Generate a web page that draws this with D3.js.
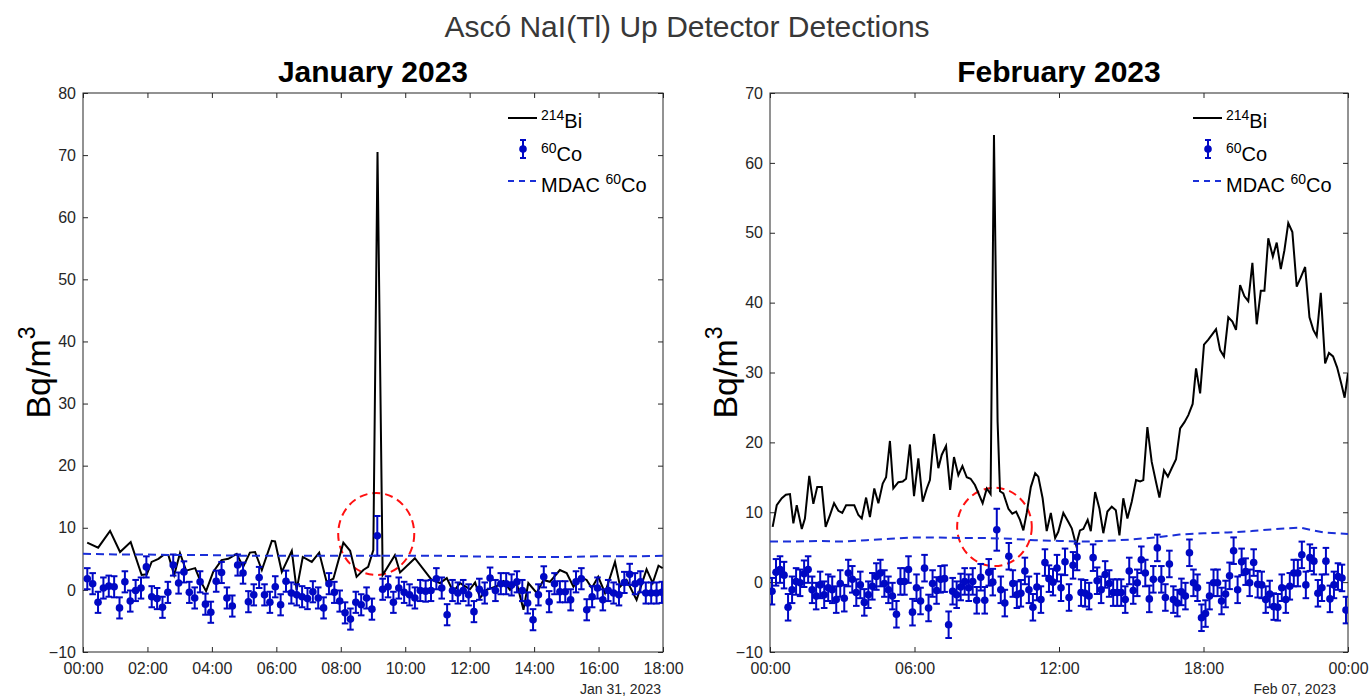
<!DOCTYPE html>
<html lang="en">
<head>
<meta charset="UTF-8">
<title>Ascó NaI(Tl) Up Detector Detections</title>
<script src="https://cdn.jsdelivr.net/npm/d3@7"></script>
<style>
  body { margin: 0; background: #fff; }
  svg { display: block; font-family: "Liberation Sans", Arial, sans-serif; }
  .tick text { font-size: 16px; fill: #262626; }
  .tick line { stroke: #262626; }
</style>
</head>
<body>
<script>
// ---- January 31, 2023 (00:00 - 18:00) ----
const janBiHours = [0.13,0.47,0.84,1.15,1.48,1.82,1.98,2.13,2.34,2.49,2.65,2.83,3.01,3.20,3.48,3.63,3.82,4.04,4.30,4.51,
  4.77,4.97,5.18,5.34,5.55,5.86,5.96,6.17,6.48,6.63,6.82,7.10,7.33,7.56,7.77,8.08,8.29,8.49,8.70,8.85,
  9.01,9.14,9.30,9.68,9.84,10.30,10.82,11.08,11.29,11.49,11.70,12.01,12.17,12.32,12.53,12.84,13.05,13.25,13.46,13.67,
  13.82,14.08,14.29,14.49,14.80,15.01,15.22,15.42,15.63,15.79,15.99,16.20,16.51,16.67,16.87,17.18,17.49,17.68,17.86,17.99];
const janBiValues = [7.6,6.8,9.5,6.1,7.7,2.4,2.5,4.5,5.0,5.6,5.6,2.4,5.9,3.1,3.5,1.6,-0.2,2.9,4.8,5.0,
  5.8,3.7,6.0,6.1,3.2,7.9,7.8,2.9,6.3,0.0,5.3,4.5,6.0,1.3,1.8,7.6,6.3,2.1,3.2,3.7,
  6.4,70.5,2.4,5.6,2.8,5.1,1.6,1.1,1.9,-0.3,1.1,0.1,1.2,-1.3,0.0,0.6,1.4,0.0,1.1,-3.2,
  1.1,-0.5,1.6,1.3,3.2,2.7,0.5,2.1,1.6,0.3,2.1,-0.5,4.5,0.5,1.6,-1.6,3.3,1.1,3.9,3.5];

// 60Co every 10 minutes, first one at 00:08
const janCoStartMin = 8;
const janCoValues = [1.8,1.0,-2.0,0.3,0.6,0.5,-2.9,1.3,-1.8,-0.1,0.3,3.7,-1.1,-1.4,-2.8,-0.4,4.0,1.1,2.9,-0.4,
  -1.3,1.3,-2.3,-3.6,1.4,2.8,-1.3,-2.6,4.0,2.7,-1.9,-0.8,2.0,-0.8,-2.0,0.5,-2.4,1.4,-0.5,-0.8,
  -1.1,-1.4,-0.3,-1.3,-2.9,1.0,-0.4,-1.8,-3.7,-4.7,-2.0,-2.4,-1.3,-3.1,8.7,
  0.1,0.5,-2.0,0.3,-0.4,-0.8,-1.3,-0.1,-0.2,-0.1,1.8,0.3,-4.0,-0.1,-0.5,-0.1,-0.8,-3.5,0.1,-0.5,
  1.9,-0.1,1.0,1.0,0.8,1.3,-0.1,-2.1,-4.8,-0.8,2.1,-1.9,1.0,-0.3,-0.3,-1.6,1.3,1.8,-3.2,-1.1,
  0.3,-1.6,-0.1,-0.5,-0.8,1.2,2.5,1.0,1.3,-0.5,-0.5,-0.5,-0.4];
const janCoErr = 1.7, janCoPeakIndex = 54, janCoPeakErr = 3.2;

// MDAC 60Co, hourly
const janMdacValues = [5.8,5.7,5.7,5.6,5.6,5.5,5.5,5.5,5.5,5.5,5.5,5.5,5.4,5.3,5.3,5.3,5.4,5.4,5.5];
const janCircle = { hour: 9.1, value: 9.0, rHours: 1.18, rValue: 6.6 };

// ---- February 07, 2023 (00:00 - 24:00) ----
const febBiHours = [0.11,0.28,0.49,0.66,0.83,0.97,1.11,1.32,1.45,1.63,1.80,1.96,2.15,2.31,2.49,2.66,2.84,3.00,3.16,3.32,
  3.50,3.67,3.81,3.99,4.15,4.33,4.50,4.68,4.82,4.98,5.12,5.33,5.51,5.65,5.81,5.98,6.16,6.34,6.51,6.64,
  6.81,6.99,7.13,7.31,7.48,7.64,7.82,7.99,8.17,8.33,8.51,8.83,9.00,9.16,9.30,9.45,9.55,9.69,9.90,10.06,
  10.22,10.38,10.52,10.66,10.83,11.01,11.14,11.32,11.49,11.66,11.84,11.97,12.18,12.39,12.53,12.71,12.87,13.01,13.19,13.32,
  13.50,13.68,13.84,14.01,14.19,14.36,14.51,14.67,14.84,15.02,15.20,15.37,15.50,15.67,15.85,16.03,16.17,16.36,16.52,16.68,
  16.86,17.03,17.21,17.37,17.55,17.69,17.86,18.02,18.20,18.37,18.52,18.69,18.85,19.03,19.20,19.35,19.52,19.70,19.86,20.03,
  20.21,20.38,20.53,20.69,20.88,21.04,21.21,21.36,21.52,21.69,21.87,22.04,22.22,22.40,22.56,22.70,22.87,23.05,23.21,23.38,
  23.55,23.73,23.86,24.00];
const febBiValues = [7.9,11.0,12.0,12.5,12.6,8.4,11.0,7.6,9.1,15.2,11.2,13.6,13.6,7.9,9.6,11.3,10.2,9.9,11.0,11.0,
  11.0,9.6,9.1,12.1,9.3,13.4,11.3,14.1,15.0,20.2,13.4,14.3,14.4,14.8,19.7,12.3,17.7,11.5,13.4,14.6,
  21.2,16.3,18.2,19.5,13.2,17.9,15.3,16.6,15.0,14.8,13.9,11.3,13.4,12.6,64.0,23.0,13.0,12.7,10.5,9.8,
  10.1,8.9,7.4,9.9,13.6,15.6,15.1,12.0,7.3,9.9,6.3,7.2,9.9,8.6,7.7,5.3,7.4,7.6,8.9,7.3,
  12.9,10.5,7.0,10.1,10.8,10.3,6.7,12.0,9.1,11.5,14.6,14.4,14.6,22.2,17.2,14.3,12.1,16.0,15.1,16.3,
  17.6,22.0,22.9,23.9,25.5,30.6,27.0,34.0,34.7,35.5,36.2,33.2,32.3,37.9,37.3,36.1,42.5,40.9,40.2,45.7,
  36.9,41.7,41.7,49.2,46.6,48.6,44.8,47.5,51.4,50.1,42.3,43.6,45.1,37.9,36.1,35.2,41.4,31.3,32.8,32.3,
  30.7,28.3,26.4,29.9];

// 60Co every 10 minutes, first one at 00:05
const febCoStartMin = 5;
const febCoValues = [-1.3,1.4,1.8,1.0,-3.6,-1.1,0.1,-0.1,1.2,1.8,-1.1,-2.0,-0.4,-1.8,-0.8,-1.1,-2.5,-0.2,-2.3,1.3,
  0.4,-1.5,-0.4,-2.9,-1.8,-0.6,0.8,1.3,-0.2,-1.1,-2.0,-4.6,0.1,0.1,1.8,-4.3,-0.8,-2.7,2.0,-3.7,
  -0.2,-1.2,0.4,0.5,-6.1,-1.3,-1.8,-0.7,0.1,-0.8,0.1,-2.6,0.7,-2.6,1.4,0.0,7.5,-1.1,-3.0,3.7,
  -0.2,-1.8,-1.6,1.6,-1.1,-3.6,-0.7,-2.5,2.8,0.5,0.0,2.0,-0.8,2.9,-2.2,2.4,3.6,-1.5,-1.6,-2.0,
  3.5,0.2,-1.1,1.1,-0.2,-1.5,-1.5,-1.5,-2.5,1.6,-1.2,-0.1,3.2,1.3,-2.4,0.4,4.9,0.4,-2.2,2.6,
  -2.5,-3.0,-1.4,-2.0,4.2,-0.1,-0.8,-5.1,-4.5,-2.0,-0.1,-0.1,-2.7,-1.7,0.9,4.5,-1.1,2.9,1.5,-0.1,
  2.8,-0.3,-0.4,-2.5,-1.7,-3.5,-3.6,-0.8,-2.5,-0.6,1.3,1.3,3.9,-0.4,3.5,3.0,-1.6,-0.8,3.0,-2.4,
  -0.4,0.8,0.6,-4.0];
const febCoErr = 1.9, febCoPeakIndex = 56, febCoPeakErr = 3.0;

const febMdacValues = [5.8,5.8,5.9,5.8,6.0,6.2,6.4,6.4,6.3,6.3,6.2,6.0,5.9,5.8,5.9,6.1,6.4,6.8,7.0,7.1,7.3,7.6,7.8,7.1,6.9];
const febCircle = { hour: 9.32, value: 7.9, rHours: 1.55, rValue: 5.6 };

const janYTicks = d3.range(-10, 81, 10);
const febYTicks = d3.range(-10, 71, 10);

const W = 1370, H = 697;
const plotTop = 93, plotBottom = 652;
const blue = "#0008c4", ink = "#262626";

const svg = d3.select("body").append("svg").attr("width", W).attr("height", H);

svg.append("text")
  .attr("x", 687).attr("y", 37)
  .attr("text-anchor", "middle")
  .attr("font-size", 30).attr("fill", "#383838")
  .text("Ascó NaI(Tl) Up Detector Detections");

function drawPanel(p) {
  const g = svg.append("g");
  const base = p.start.getTime();
  const t = h => new Date(base + h * 3600e3);

  const x = d3.scaleTime().domain([t(0), t(p.hours)]).range([p.left, p.right]);
  const y = d3.scaleLinear().domain([p.yTicks[0], p.yTicks[p.yTicks.length - 1]]).range([plotBottom, plotTop]);

  const clipId = "clip-" + p.id;
  svg.append("clipPath").attr("id", clipId).append("rect")
    .attr("x", p.left).attr("y", plotTop).attr("width", p.right - p.left).attr("height", plotBottom - plotTop);

  // axes, ticks pointing inward like matlab
  const fmt = d3.timeFormat("%H:%M");
  const xTicks = d3.range(0, p.hours + 0.01, p.tickStep).map(t);
  g.append("g").attr("transform", `translate(0,${plotBottom})`)
    .call(d3.axisBottom(x).tickValues(xTicks).tickFormat(fmt).tickSizeInner(-5).tickSizeOuter(0).tickPadding(11));
  g.append("g").attr("transform", `translate(0,${plotTop})`)
    .call(d3.axisTop(x).tickValues(xTicks).tickFormat("").tickSizeInner(-5).tickSizeOuter(0));
  g.append("g").attr("transform", `translate(${p.left},0)`)
    .call(d3.axisLeft(y).tickValues(p.yTicks).tickSizeInner(-5).tickSizeOuter(0).tickPadding(7));
  g.append("g").attr("transform", `translate(${p.right},0)`)
    .call(d3.axisRight(y).tickValues(p.yTicks).tickFormat("").tickSizeInner(-5).tickSizeOuter(0));
  g.selectAll(".domain").remove();
  g.append("rect")
    .attr("x", p.left).attr("y", plotTop).attr("width", p.right - p.left).attr("height", plotBottom - plotTop)
    .attr("fill", "none").attr("stroke", ink).attr("stroke-width", 1);

  const data = svg.append("g").attr("clip-path", `url(#${clipId})`);

  // 214Bi
  const bi = p.biHours.map((h, i) => [t(h), p.biValues[i]]);
  data.append("path")
    .attr("d", d3.line().x(d => x(d[0])).y(d => y(d[1]))(bi))
    .attr("fill", "none").attr("stroke", "#000").attr("stroke-width", 2);

  // 60Co with error bars
  const co = p.coValues.map((v, i) => ({
    time: t((p.coStartMin + i * 10) / 60),
    value: v,
    err: i === p.coPeakIndex ? p.coPeakErr : p.coErr
  }));
  const pts = data.append("g").selectAll("g").data(co).join("g");
  pts.append("line")
    .attr("x1", d => x(d.time)).attr("x2", d => x(d.time))
    .attr("y1", d => y(d.value - d.err)).attr("y2", d => y(d.value + d.err))
    .attr("stroke", blue).attr("stroke-width", 2);
  pts.selectAll(".cap").data(d => [d.value - d.err, d.value + d.err].map(v => ({ time: d.time, v })))
    .join("line")
    .attr("x1", d => x(d.time) - 3.3).attr("x2", d => x(d.time) + 3.3)
    .attr("y1", d => y(d.v)).attr("y2", d => y(d.v))
    .attr("stroke", blue).attr("stroke-width", 2);
  pts.append("circle")
    .attr("cx", d => x(d.time)).attr("cy", d => y(d.value)).attr("r", 3.8)
    .attr("fill", blue);

  // MDAC 60Co
  data.append("path")
    .attr("d", d3.line().x((d, i) => x(t(i))).y(d => y(d))(p.mdacValues))
    .attr("fill", "none").attr("stroke", "#1a2fd8").attr("stroke-width", 2).attr("stroke-dasharray", "8,5");

  // red circle around the coincident peak
  const c = p.circle;
  g.append("ellipse")
    .attr("cx", x(t(c.hour))).attr("cy", y(c.value))
    .attr("rx", x(t(c.hour + c.rHours)) - x(t(c.hour)))
    .attr("ry", y(c.value - c.rValue) - y(c.value))
    .attr("fill", "none").attr("stroke", "#ff1010").attr("stroke-width", 2).attr("stroke-dasharray", "8,5");

  // titles
  svg.append("text")
    .attr("x", (p.left + p.right) / 2).attr("y", 82)
    .attr("text-anchor", "middle").attr("font-size", 30).attr("font-weight", "bold").attr("fill", "#000")
    .text(p.title);

  const yl = svg.append("text")
    .attr("transform", `translate(${p.left - 33},${(plotTop + plotBottom) / 2}) rotate(-90)`)
    .attr("text-anchor", "middle").attr("font-size", 34).attr("fill", "#000");
  yl.append("tspan").text("Bq/m");
  yl.append("tspan").attr("font-size", 23).attr("dy", -15).text("3");

  svg.append("text")
    .attr("x", p.right - p.dateInset).attr("y", 694)
    .attr("text-anchor", "end").attr("font-size", 14).attr("fill", ink)
    .text(p.dateLabel);

  // legend
  const lx = p.right - 155;
  const leg = svg.append("g").attr("font-size", 20).attr("fill", "#000");
  leg.append("line").attr("x1", lx).attr("x2", lx + 29).attr("y1", 118).attr("y2", 118)
    .attr("stroke", "#000").attr("stroke-width", 2);
  leg.append("line").attr("x1", lx + 15).attr("x2", lx + 15).attr("y1", 140).attr("y2", 158)
    .attr("stroke", blue).attr("stroke-width", 2);
  [140, 158].forEach(v => leg.append("line").attr("x1", lx + 12).attr("x2", lx + 18).attr("y1", v).attr("y2", v)
    .attr("stroke", blue).attr("stroke-width", 2));
  leg.append("circle").attr("cx", lx + 15).attr("cy", 149).attr("r", 3.8).attr("fill", blue);
  leg.append("line").attr("x1", lx).attr("x2", lx + 29).attr("y1", 181).attr("y2", 181)
    .attr("stroke", "#1a2fd8").attr("stroke-width", 2).attr("stroke-dasharray", "6,5");

  const labels = [["", "214", "Bi", 128], ["", "60", "Co", 161], ["MDAC ", "60", "Co", 192]];
  labels.forEach(([pre, sup, el, yy]) => {
    const tx = leg.append("text").attr("x", lx + 33).attr("y", yy);
    if (pre) tx.append("tspan").text(pre);
    tx.append("tspan").attr("font-size", 14).attr("dy", -8).text(sup);
    tx.append("tspan").attr("dy", 8).text(el);
  });
}

drawPanel({
  id: "jan", title: "January 2023", dateLabel: "Jan 31, 2023", dateInset: 2,
  start: new Date(2023, 0, 31, 0, 0), hours: 18, tickStep: 2,
  left: 83, right: 663, yTicks: janYTicks,
  biHours: janBiHours, biValues: janBiValues,
  coStartMin: janCoStartMin, coValues: janCoValues, coErr: janCoErr, coPeakIndex: janCoPeakIndex, coPeakErr: janCoPeakErr,
  mdacValues: janMdacValues, circle: janCircle
});

drawPanel({
  id: "feb", title: "February 2023", dateLabel: "Feb 07, 2023", dateInset: 12,
  start: new Date(2023, 1, 7, 0, 0), hours: 24, tickStep: 6,
  left: 770, right: 1348, yTicks: febYTicks,
  biHours: febBiHours, biValues: febBiValues,
  coStartMin: febCoStartMin, coValues: febCoValues, coErr: febCoErr, coPeakIndex: febCoPeakIndex, coPeakErr: febCoPeakErr,
  mdacValues: febMdacValues, circle: febCircle
});
</script>
</body>
</html>
